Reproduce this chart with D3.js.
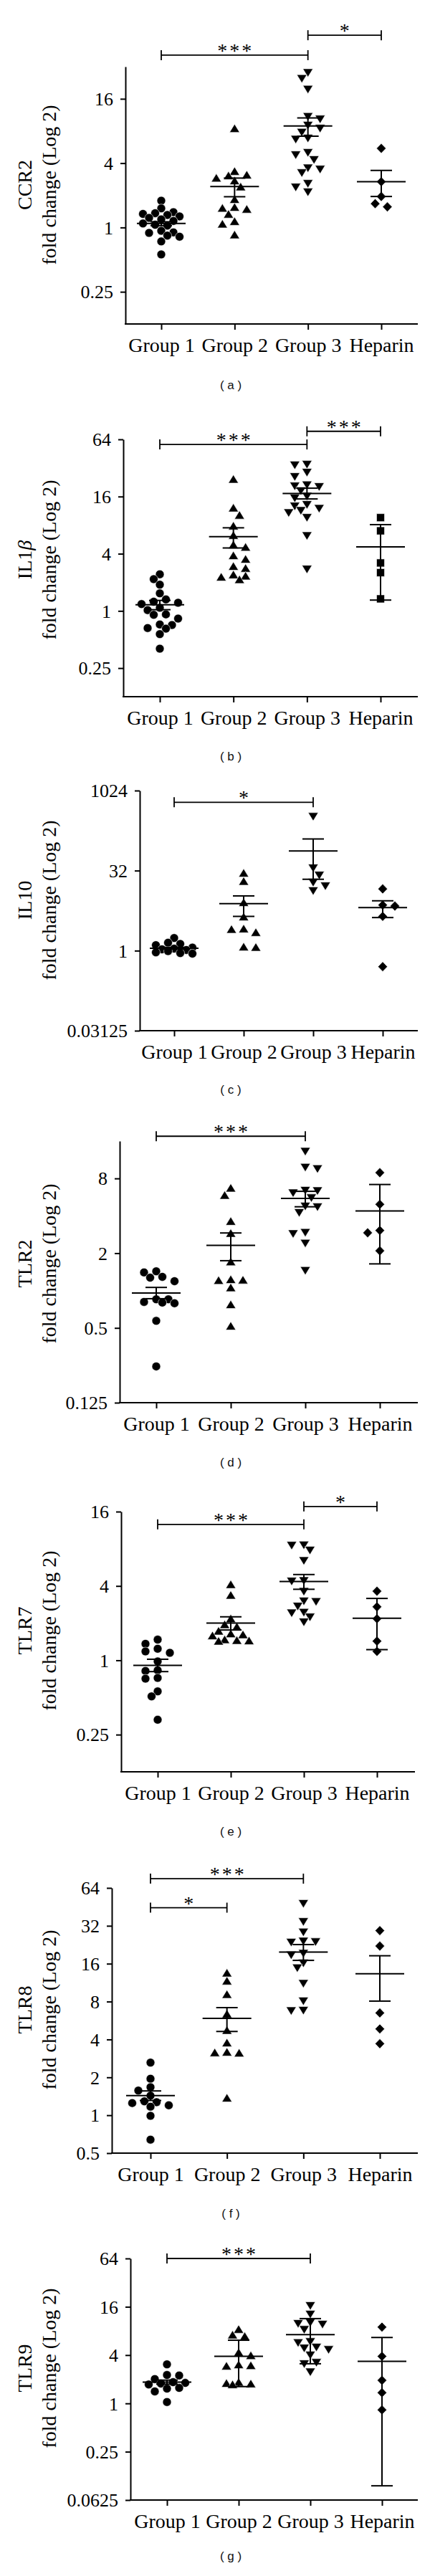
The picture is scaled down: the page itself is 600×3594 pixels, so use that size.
<!DOCTYPE html>
<html><head><meta charset="utf-8">
<script src="https://cdn.jsdelivr.net/npm/d3@7"></script>
<style>body{margin:0;background:#fff}svg{display:block}</style>
</head><body>
<svg id="chart" width="600" height="3594"></svg>
<script>
// ---------- DATA (fold change values) ----------
const groups = ["Group 1", "Group 2", "Group 3", "Heparin"];

// (a) CCR2
const ccr2G1 = [1.78,1.51,1.39,1.36,1.34,1.31,1.27,1.23,1.19,1.15,1.09,1.06,1.04,0.93,0.90,0.89,0.84,0.82,0.74,0.56];
const ccr2G2 = [8.3,3.3,3.05,3.0,2.85,2.69,2.36,1.8,1.52,1.46,1.49,1.31,1.12,1.06,0.84];
const ccr2G3 = [28.6,25.2,20,11.1,10.5,9.2,8.6,7.9,6.96,6.8,5.1,4.86,4.38,3.66,3.56,3.3,2.62,2.42,2.18];
const ccr2Hep = [5.5,2.68,1.95,1.67,1.56];
const ccr2Mean = [1.09, 2.42, 8.9, 2.68];
const ccr2SemLow = [1.04, 1.94, 7.15, 1.95];
const ccr2SemHigh = [1.13, 2.9, 10.6, 3.42];
const ccr2Ticks = [0.25, 1, 4, 16];
const ccr2Sig = [{from:0, to:2, level:41, label:"***"}, {from:2, to:3, level:63, label:"*"}];

// (b) IL1beta
const il1bG1 = [2.43,2.16,1.89,1.53,1.32,1.25,1.22,1.18,1.08,1.02,0.92,0.91,0.83,0.72,0.71,0.66,0.65,0.57,0.40];
const il1bG2 = [23.9,11.9,10.0,7.7,6.13,4.87,4.6,3.75,3.44,2.89,2.76,2.36,2.29,2.23,2.1];
const il1bG3 = [35.5,35,29.3,26.4,21.6,21,20.7,18.7,16.4,15.7,13.4,12.9,12.2,11.6,11.0,9.8,6.3,2.8];
const il1bHep = [9.6,6.97,3.2,2.53,1.34];
const il1bMean = [1.16, 6.06, 17.2, 4.73];
const il1bSemLow = [1.03, 4.6, 15.1, 1.3];
const il1bSemHigh = [1.29, 7.5, 19.6, 8.1];
const il1bTicks = [0.25, 1, 4, 16, 64];
const il1bSig = [{from:0, to:2, level:56.6, label:"***"}, {from:2, to:3, level:77.8, label:"***"}];

// (c) IL10
const il10G1 = [1.73,1.41,1.34,1.27,1.14,1.09,1.06,1.03,0.98,0.93,0.90,0.88];
const il10G2 = [27.7,19.5,7.8,4.19,2.49,2.44,2.13,1.14,1.12];
const il10G3 = [344,37,27,19.8,17,13.8];
const il10Hep = [14.5,7.2,6.9,4.41,0.5];
const il10Mean = [1.11, 7.64, 75, 6.47];
const il10SemLow = [1.07, 4.41, 22, 4.19];
const il10SemHigh = [1.15, 10.7, 126, 8.66];
const il10Ticks = [0.03125, 1, 32, 1024];
const il10Sig = [{from:0, to:2, level:617, label:"*"}];

// (d) TLR2
const tlr2G1 = [1.43,1.40,1.29,1.27,1.19,0.85,0.85,0.81,0.80,0.79,0.57,0.245];
const tlr2G2 = [6.6,5.77,3.56,2.85,1.68,1.21,1.2,1.19,1.04,0.76,0.51];
const tlr2G3 = [13.4,9.97,9.7,6.5,6.45,6.2,5.66,4.85,4.78,4.3,2.98,2.91,2.44,1.47];
const tlr2Hep = [8.9,4.95,3.05,2.92,2.09];
const tlr2Mean = [0.955, 2.31, 5.53, 4.38];
const tlr2SemLow = [0.86, 1.74, 4.73, 1.64];
const tlr2SemHigh = [1.06, 2.91, 6.3, 7.15];
const tlr2Ticks = [0.125, 0.5, 2, 8];
const tlr2Sig = [{from:0, to:2, level:17.5, label:"***"}];

// (e) TLR7
const tlr7G1 = [1.47,1.36,1.24,1.18,1.15,0.98,0.83,0.82,0.72,0.71,0.56,0.51,0.33];
const tlr7G2 = [4.05,3.32,2.14,1.92,1.84,1.70,1.62,1.59,1.56,1.45,1.43,1.42,1.41];
const tlr7G3 = [8.7,8.65,7.9,6.5,4.47,4.43,3.66,3.06,3.03,2.78,2.48,2.45,2.27,2.07];
const tlr7Hep = [3.63,2.71,2.17,1.43,1.18];
const tlr7Mean = [0.91, 2.0, 4.34, 2.19];
const tlr7SemLow = [0.81, 1.76, 3.76, 1.22];
const tlr7SemHigh = [1.02, 2.25, 4.95, 3.17];
const tlr7Ticks = [0.25, 1, 4, 16];
const tlr7Sig = [{from:0, to:2, level:12.6, label:"***"}, {from:2, to:3, level:17.6, label:"*"}];

// (f) TLR8
const tlr8G1 = [2.62,1.95,1.67,1.57,1.43,1.29,1.27,1.25,1.20,1.17,0.99,0.64];
const tlr8G2 = [13.3,11.5,9.0,6.28,4.66,3.71,3.13,3.08,3.1,1.35];
const tlr8G3 = [48.8,35,28.9,24.5,24.2,24,19.6,19.0,16.4,15.0,11.3,8.2,6.9,6.85];
const tlr8Hep = [29.3,22.1,6.5,4.85,3.7];
const tlr8Mean = [1.43, 5.89, 19.8, 13.3];
const tlr8SemLow = [1.31, 4.63, 17.0, 8.07];
const tlr8SemHigh = [1.56, 7.16, 22.7, 18.5];
const tlr8Ticks = [0.5, 1, 2, 4, 8, 16, 32, 64];
const tlr8Sig = [{from:0, to:2, level:75.8, label:"***"}, {from:0, to:1, level:44.6, label:"*"}];

// (g) TLR9
const tlr9G1 = [3.07,2.26,2.23,2.01,1.84,1.80,1.77,1.72,1.56,1.53,1.41,1.04];
const tlr9G2 = [8.2,6.97,6.7,4.23,3.86,2.97,2.9,2.86,1.8,1.74,1.72,1.68];
const tlr9G3 = [16.9,13.2,10.4,10.1,9.9,8.5,6.0,5.83,5.13,4.99,4.78,4.09,3.3,3.18,2.52];
const tlr9Hep = [8.93,3.86,1.94,1.36,0.83];
const tlr9Mean = [1.84, 3.86, 7.2, 3.35];
const tlr9SemLow = [1.74, 1.62, 3.12, 0.094];
const tlr9SemHigh = [1.95, 6.13, 11.4, 6.63];
const tlr9Ticks = [0.0625, 0.25, 1, 4, 16, 64];
const tlr9Sig = [{from:0, to:2, level:64, label:"***"}];

const defaultShapes = ["circle", "triangleUp", "triangleDown", "diamond"];
const il1bShapes = ["circle", "triangleUp", "triangleDown", "square"];

// ---------- LAYOUT ----------
const layout = [
  {cap:"( a )", title:[["CCR2",false]], domain:[0.125,32], axisX:175, x0:225, x1:532, xEnd:583, top:93, bottom:452, titleY:258, capY:537},
  {cap:"( b )", title:[["IL1",false],["β",true]], domain:[0.125,64], axisX:172, x0:223, x1:531, xEnd:583, top:613, bottom:972, titleY:781, capY:1055},
  {cap:"( c )", title:[["IL10",false]], domain:[0.03125,1024], axisX:195, x0:243, x1:534, xEnd:583, top:1103, bottom:1438, titleY:1256, capY:1520},
  {cap:"( d )", title:[["TLR2",false]], domain:[0.125,16], axisX:167, x0:218, x1:530, xEnd:583, top:1592, bottom:1957, titleY:1763, capY:2040},
  {cap:"( e )", title:[["TLR7",false]], domain:[0.125,16], axisX:169, x0:220, x1:526, xEnd:579, top:2109, bottom:2472, titleY:2275, capY:2555},
  {cap:"( f )", title:[["TLR8",false]], domain:[0.5,64], axisX:156, x0:210, x1:530, xEnd:583, top:2634, bottom:3004, titleY:2804, capY:3088},
  {cap:"( g )", title:[["TLR9",false]], domain:[0.0625,64], axisX:182, x0:233, x1:533, xEnd:583, top:3151, bottom:3488, titleY:3304, capY:3566}
];

const panelData = [
  {vals:[ccr2G1,ccr2G2,ccr2G3,ccr2Hep], mean:ccr2Mean, lo:ccr2SemLow, hi:ccr2SemHigh, ticks:ccr2Ticks, sig:ccr2Sig, shapes:defaultShapes},
  {vals:[il1bG1,il1bG2,il1bG3,il1bHep], mean:il1bMean, lo:il1bSemLow, hi:il1bSemHigh, ticks:il1bTicks, sig:il1bSig, shapes:il1bShapes},
  {vals:[il10G1,il10G2,il10G3,il10Hep], mean:il10Mean, lo:il10SemLow, hi:il10SemHigh, ticks:il10Ticks, sig:il10Sig, shapes:defaultShapes},
  {vals:[tlr2G1,tlr2G2,tlr2G3,tlr2Hep], mean:tlr2Mean, lo:tlr2SemLow, hi:tlr2SemHigh, ticks:tlr2Ticks, sig:tlr2Sig, shapes:defaultShapes},
  {vals:[tlr7G1,tlr7G2,tlr7G3,tlr7Hep], mean:tlr7Mean, lo:tlr7SemLow, hi:tlr7SemHigh, ticks:tlr7Ticks, sig:tlr7Sig, shapes:defaultShapes},
  {vals:[tlr8G1,tlr8G2,tlr8G3,tlr8Hep], mean:tlr8Mean, lo:tlr8SemLow, hi:tlr8SemHigh, ticks:tlr8Ticks, sig:tlr8Sig, shapes:defaultShapes},
  {vals:[tlr9G1,tlr9G2,tlr9G3,tlr9Hep], mean:tlr9Mean, lo:tlr9SemLow, hi:tlr9SemHigh, ticks:tlr9Ticks, sig:tlr9Sig, shapes:defaultShapes}
];

// ---------- DRAWING ----------
const SERIF = "'Liberation Serif','Times New Roman',Times,serif";
const SANS = "'Liberation Sans',Arial,sans-serif";
const svg = d3.select("#chart");

const shapePath = {
  circle: "M6,0A6,6 0 1,1 -6,0A6,6 0 1,1 6,0Z",
  triangleUp: "M0,-7.2L7,4.3L-7,4.3Z",
  triangleDown: "M0,7.2L7,-4.3L-7,-4.3Z",
  diamond: "M0,-6.8L6.6,0L0,6.8L-6.6,0Z",
  square: "M-5.5,-5.5H5.5V5.5H-5.5Z"
};

// bounded symmetric dodge (GraphPad-like scatter spreading)
function dodge(vals, cx, y, step, minD, maxSteps) {
  const pts = vals.map(v => ({v, py: y(v)})).sort((a, b) => a.py - b.py);
  const placed = [];
  pts.forEach((p, i) => {
    const sign = i % 2 ? -1 : 1;
    let best = null, bestD = -1, done = false;
    for (let k = 0; k <= maxSteps * 2 && !done; k++) {
      const off = k === 0 ? 0 : (k % 2 ? sign : -sign) * Math.ceil(k / 2) * step;
      const px = cx + off;
      const dmin = placed.length ? Math.min(...placed.map(q => Math.hypot(q.px - px, q.py - p.py))) : Infinity;
      if (dmin >= minD) { p.px = px; done = true; }
      else if (dmin > bestD) { bestD = dmin; best = px; }
    }
    if (!done) p.px = best;
    placed.push(p);
  });
  return pts;
}

layout.forEach((L, idx) => {
  const D = panelData[idx];
  const g = svg.append("g");
  const y = d3.scaleLog().base(2).domain(L.domain).range([L.bottom, L.top]);
  const x = d3.scalePoint().domain(groups).range([L.x0, L.x1]);

  // y axis
  const ya = g.append("g").attr("transform", `translate(${L.axisX},0)`)
    .call(d3.axisLeft(y).tickValues(D.ticks).tickFormat(d => String(d)).tickSize(7).tickSizeOuter(0).tickPadding(10));
  ya.select(".domain").attr("stroke", "#000").attr("stroke-width", 2);
  ya.selectAll(".tick line").attr("stroke", "#000").attr("stroke-width", 2);
  ya.selectAll(".tick text").attr("font-family", SERIF).attr("font-size", 26).attr("fill", "#000").attr("dy", "0.34em");

  // x axis
  const xa = g.append("g").attr("transform", `translate(0,${L.bottom})`)
    .call(d3.axisBottom(x).tickSize(8).tickSizeOuter(0));
  xa.select(".domain").remove();
  xa.selectAll(".tick line").attr("stroke", "#000").attr("stroke-width", 2);
  xa.selectAll(".tick text").attr("font-family", SERIF).attr("font-size", 28).attr("fill", "#000").attr("y", 39).attr("dy", 0);
  g.append("line").attr("x1", L.axisX - 1).attr("x2", L.xEnd).attr("y1", L.bottom).attr("y2", L.bottom)
    .attr("stroke", "#000").attr("stroke-width", 2);

  // points
  groups.forEach((grp, gi) => {
    const pts = dodge(D.vals[gi], x(grp), y, 8.5, 10.5, 3);
    g.append("g").selectAll("path").data(pts).join("path")
      .attr("d", shapePath[D.shapes[gi]])
      .attr("transform", p => `translate(${p.px},${p.py})`)
      .attr("fill", "#000").attr("stroke", "#fff").attr("stroke-width", 0.6);
  });

  // mean and SEM
  groups.forEach((grp, gi) => {
    const cx = x(grp);
    const eg = g.append("g").attr("stroke", "#000").attr("stroke-width", 2).attr("fill", "none");
    eg.append("line").attr("x1", cx).attr("x2", cx).attr("y1", y(D.lo[gi])).attr("y2", y(D.hi[gi]));
    eg.append("line").attr("x1", cx - 15).attr("x2", cx + 15).attr("y1", y(D.lo[gi])).attr("y2", y(D.lo[gi]));
    eg.append("line").attr("x1", cx - 15).attr("x2", cx + 15).attr("y1", y(D.hi[gi])).attr("y2", y(D.hi[gi]));
    eg.append("line").attr("x1", cx - 34).attr("x2", cx + 34).attr("y1", y(D.mean[gi])).attr("y2", y(D.mean[gi]));
  });

  // significance bars
  D.sig.forEach(s => {
    const xa1 = x(groups[s.from]), xa2 = x(groups[s.to]), yy = y(s.level);
    const sg = g.append("g").attr("stroke", "#000").attr("stroke-width", 1.8);
    sg.append("line").attr("x1", xa1).attr("x2", xa2).attr("y1", yy).attr("y2", yy);
    sg.append("line").attr("x1", xa1).attr("x2", xa1).attr("y1", yy - 7).attr("y2", yy + 7);
    sg.append("line").attr("x1", xa2).attr("x2", xa2).attr("y1", yy - 7).attr("y2", yy + 7);
    g.append("text").attr("x", (xa1 + xa2) / 2 + (s.label.length > 1 ? 1.5 : 0)).attr("y", yy + 3)
      .attr("text-anchor", "middle").attr("font-family", SERIF).attr("font-size", 28)
      .attr("letter-spacing", s.label.length > 1 ? 3 : 0).text(s.label);
  });

  // y title (two lines)
  const t1 = g.append("text").attr("transform", `translate(44,${L.titleY}) rotate(-90)`)
    .attr("text-anchor", "middle").attr("font-family", SERIF).attr("font-size", 28);
  L.title.forEach(([t, it]) => t1.append("tspan").attr("font-style", it ? "italic" : "normal").text(t));
  g.append("text").attr("transform", `translate(78,${L.titleY}) rotate(-90)`)
    .attr("text-anchor", "middle").attr("font-family", SERIF).attr("font-size", 28)
    .text("fold change (Log 2)");

  // caption
  g.append("text").attr("x", 322).attr("y", L.capY + 6).attr("text-anchor", "middle")
    .attr("font-family", SANS).attr("font-size", 17).attr("fill", "#111").text(L.cap);
});
</script>
</body></html>
